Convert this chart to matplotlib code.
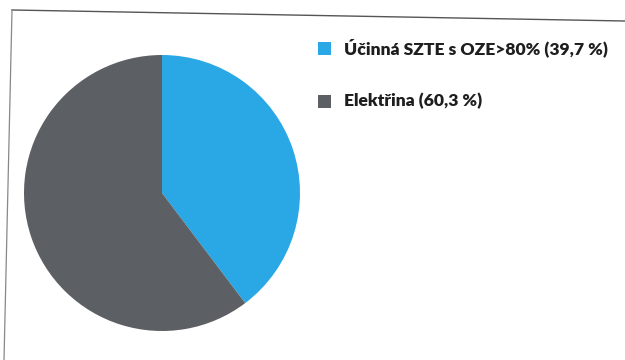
import matplotlib
matplotlib.use("Agg")
import matplotlib.pyplot as plt
from matplotlib.lines import Line2D
from matplotlib.patches import Rectangle

labels = ["Účinná SZTE s OZE>80% (39,7 %)", "Elektřina (60,3 %)"]
values = [39.7, 60.3]
colors = ["#2aa8e6", "#5c5f63"]

W, H = 625, 360
fig = plt.figure(figsize=(W / 100, H / 100), dpi=100)
fig.patch.set_facecolor("white")

# pie axes: center (162,193), radius 138 px
cx, cy, r = 162, 193, 138
ax = fig.add_axes([(cx - r) / W, 1 - (cy + r) / H, 2 * r / W, 2 * r / H])
ax.pie(values, colors=colors, startangle=90, counterclock=False,
       wedgeprops=dict(linewidth=0))
ax.set_aspect("equal")
ax.set_xlim(-1, 1)
ax.set_ylim(-1, 1)
ax.axis("off")

# frame lines (scanned chart border)
def px(x, y):
    return x / W, 1 - y / H
fig.add_artist(Line2D(*zip(px(12, 10), px(625, 21)), transform=fig.transFigure,
                      color="#555555", lw=1.0))
fig.add_artist(Line2D(*zip(px(12, 10), px(4, 360)), transform=fig.transFigure,
                      color="#888888", lw=0.9))

# legend
font = dict(family=["Lato", "DejaVu Sans"], weight="heavy", size=12.6, color="#1e1e1e")
legend_y = [48, 101]
for lab, col, y in zip(labels, colors, legend_y):
    x0, y0 = px(318, y + 6.5)
    fig.add_artist(Rectangle((x0, y0), 13 / W, 13 / H, transform=fig.transFigure,
                             facecolor=col, edgecolor="none"))
    tx, ty = px(344, y)
    fig.text(tx, ty, lab, va="center", ha="left", **font)

fig.savefig("out.png", dpi=100, facecolor="white")
